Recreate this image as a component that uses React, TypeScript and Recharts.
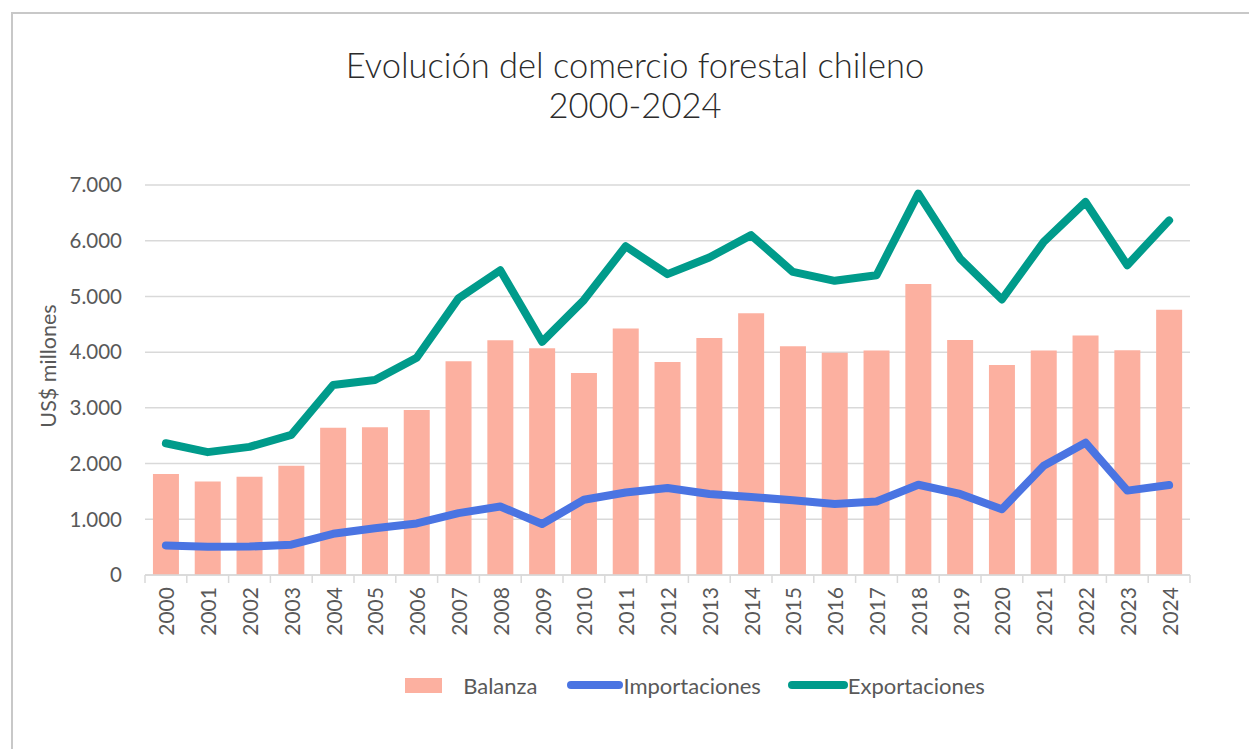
import React from 'react';
import {
  ComposedChart,
  Bar,
  Line,
  XAxis,
  YAxis,
  CartesianGrid,
  Legend,
} from 'recharts';

const years = [
  '2000', '2001', '2002', '2003', '2004', '2005', '2006', '2007', '2008', '2009',
  '2010', '2011', '2012', '2013', '2014', '2015', '2016', '2017', '2018', '2019',
  '2020', '2021', '2022', '2023', '2024',
];

const balanza = [
  1815, 1680, 1765, 1960, 2645, 2650, 2960, 3835, 4215, 4070,
  3625, 4425, 3825, 4255, 4700, 4105, 3990, 4030, 5225, 4220,
  3770, 4030, 4300, 4035, 4760,
];

const importaciones = [
  530, 505, 510, 545, 740, 840, 925, 1110, 1230, 915,
  1350, 1480, 1560, 1455, 1400, 1340, 1275, 1320, 1620, 1455,
  1180, 1960, 2375, 1515, 1615,
];

const exportaciones = [
  2365, 2205, 2300, 2515, 3410, 3500, 3900, 4965, 5470, 4185,
  4935, 5900, 5400, 5700, 6100, 5440, 5280, 5380, 6845, 5680,
  4945, 5980, 6695, 5560, 6365,
];

const yTicks = [0, 1000, 2000, 3000, 4000, 5000, 6000, 7000];

const data = years.map((year, i) => ({
  year,
  balanza: balanza[i],
  importaciones: importaciones[i],
  exportaciones: exportaciones[i],
}));

const FONT = 'Lato, "Open Sans", sans-serif';
const TEXT = '#595959';
const BAR = '#FCB0A0';
const BLUE = '#4A74E2';
const TEAL = '#009B8B';
const GRID = '#D9D9D9';

const PLOT_LEFT = 145;
const PLOT_RIGHT = 1190;
const BAND = (PLOT_RIGHT - PLOT_LEFT) / years.length;

const fmt = (v: number) => v.toLocaleString('de-DE');

const YearTick = (props: any) => {
  const { x, y, payload, index } = props;
  const left = x - BAND / 2;
  return (
    <g>
      <line x1={left} y1={y - 8} x2={left} y2={y} stroke={GRID} strokeWidth={1.5} />
      {index === years.length - 1 && (
        <line x1={left + BAND} y1={y - 8} x2={left + BAND} y2={y} stroke={GRID} strokeWidth={1.5} />
      )}
      <text
        x={x}
        y={y + 4}
        transform={`rotate(-90, ${x}, ${y + 4})`}
        textAnchor="end"
        dominantBaseline="central"
        fill={TEXT}
        fontSize={21}
        fontFamily={FONT}
      >
        {payload.value}
      </text>
    </g>
  );
};

const LegendContent = () => (
  <div
    style={{
      height: 30,
      display: 'flex',
      justifyContent: 'center',
      alignItems: 'center',
      fontFamily: FONT,
      fontSize: 22,
      color: TEXT,
      paddingLeft: 200,
    }}
  >
    <span style={{ display: 'inline-block', width: 37, height: 15, background: BAR, marginRight: 21 }} />
    <span style={{ marginRight: 30 }}>Balanza</span>
    <span style={{ display: 'inline-block', width: 56, height: 8, borderRadius: 4, background: BLUE }} />
    <span style={{ marginRight: 27 }}>Importaciones</span>
    <span style={{ display: 'inline-block', width: 60, height: 8, borderRadius: 4, background: TEAL }} />
    <span>Exportaciones</span>
  </div>
);

export default function App() {
  return (
    <div
      style={{
        position: 'fixed',
        left: 0,
        top: 0,
        width: 1249,
        height: 749,
        background: '#fff',
        overflow: 'hidden',
      }}
    >
      <div
        style={{
          position: 'absolute',
          left: 11,
          top: 12,
          width: 1300,
          height: 800,
          border: '2px solid #C8C8C8',
        }}
      />
      <div
        style={{
          position: 'absolute',
          left: 0,
          top: 45,
          width: 1270,
          textAlign: 'center',
          fontFamily: FONT,
          fontWeight: 300,
          fontSize: 34.5,
          lineHeight: '40px',
          color: '#2b2b2b',
        }}
      >
        Evolución del comercio forestal chileno
        <br />
        2000-2024
      </div>
      <div
        style={{
          position: 'absolute',
          left: 48,
          top: 366,
          transform: 'translate(-50%, -50%) rotate(-90deg)',
          whiteSpace: 'nowrap',
          fontFamily: FONT,
          fontSize: 21.5,
          color: TEXT,
        }}
      >
        US$ millones
      </div>
      <div style={{ position: 'absolute', left: 0, top: 0 }}>
        <ComposedChart
          width={1249}
          height={749}
          data={data}
          margin={{ top: 185, right: 1249 - PLOT_RIGHT, bottom: 49, left: 0 }}
          barCategoryGap="19%"
        >
          <CartesianGrid vertical={false} stroke={GRID} strokeWidth={1.5} />
          <XAxis
            dataKey="year"
            height={95}
            interval={0}
            axisLine={{ stroke: GRID, strokeWidth: 1.5 }}
            tickLine={false}
            tick={<YearTick />}
          />
          <YAxis
            width={PLOT_LEFT}
            domain={[0, 7000]}
            ticks={yTicks}
            tickFormatter={fmt}
            axisLine={false}
            tickLine={false}
            tickSize={0}
            tickMargin={23}
            tick={{ fill: TEXT, fontSize: 20.5, fontFamily: FONT }}
          />
          <Legend verticalAlign="bottom" content={<LegendContent />} />
          <Bar dataKey="balanza" name="Balanza" fill={BAR} isAnimationActive={false} />
          <Line
            dataKey="importaciones"
            name="Importaciones"
            stroke={BLUE}
            strokeWidth={8}
            strokeLinecap="round"
            strokeLinejoin="round"
            dot={false}
            activeDot={false}
            isAnimationActive={false}
          />
          <Line
            dataKey="exportaciones"
            name="Exportaciones"
            stroke={TEAL}
            strokeWidth={8}
            strokeLinecap="round"
            strokeLinejoin="round"
            dot={false}
            activeDot={false}
            isAnimationActive={false}
          />
        </ComposedChart>
      </div>
    </div>
  );
}
